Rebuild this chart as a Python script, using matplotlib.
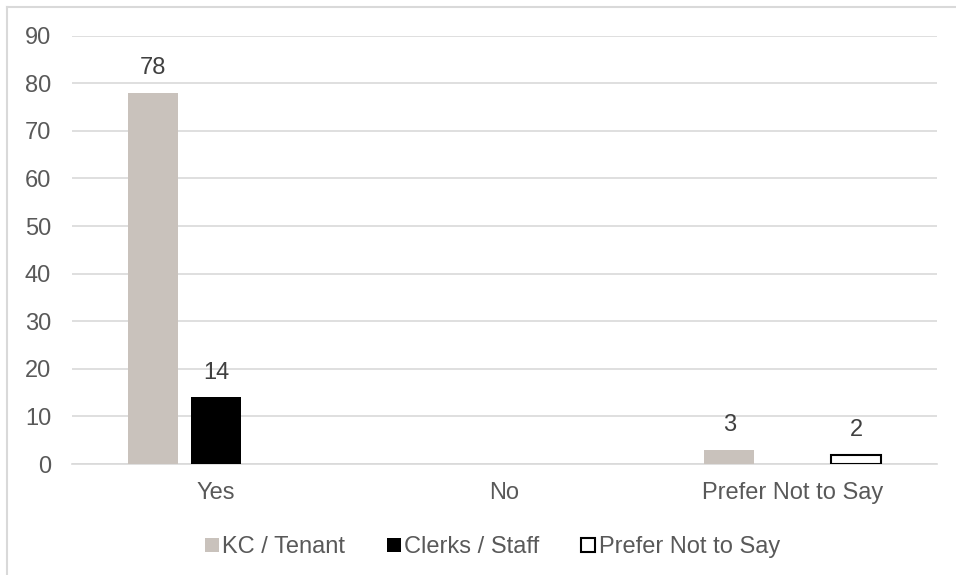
import numpy as np
import matplotlib.pyplot as plt
from matplotlib.lines import Line2D

plt.rcParams['font.family'] = ['Liberation Sans', 'DejaVu Sans']

categories = ['Yes', 'No', 'Prefer Not to Say']
kc_tenant = [78, np.nan, 3]
clerks_staff = [14, np.nan, np.nan]
prefer_not = [np.nan, np.nan, 2]

series = [
    ('KC / Tenant', kc_tenant, '#C9C2BC', '#C9C2BC'),
    ('Clerks / Staff', clerks_staff, '#000000', '#000000'),
    ('Prefer Not to Say', prefer_not, '#FFFFFF', '#000000'),
]

fig = plt.figure(figsize=(9.56, 5.75), dpi=100)
ax = fig.add_axes([0.0753, 0.193, 0.9047, 0.745])

x = np.arange(len(categories))
width = 0.173
step = 0.22
fs = 17

for i, (name, vals, face, edge) in enumerate(series):
    pos = x + (i - 1) * step
    ax.bar(pos, vals, width, color=face, edgecolor=edge,
           linewidth=1.5 if face == '#FFFFFF' else 0, zorder=3)
    for p, v in zip(pos, vals):
        if not np.isnan(v):
            ax.text(p, v + 2.9, f'{v:g}', ha='center', va='bottom',
                    fontsize=fs, color='#404040')

ax.set_xlim(-0.5, 2.5)
ax.set_ylim(0, 90)
ax.set_yticks(range(0, 91, 10))
ax.set_xticks(x)
ax.set_xticklabels(categories)
ax.tick_params(axis='both', length=0, labelsize=fs, colors='#595959')
ax.tick_params(axis='x', pad=13)
ax.tick_params(axis='y', pad=15)
ax.yaxis.grid(True, color='#D9D9D9', linewidth=1.2, zorder=0)
for s in ['top', 'right', 'left']:
    ax.spines[s].set_visible(False)
ax.spines['bottom'].set_color('#D9D9D9')
ax.spines['bottom'].set_linewidth(1.2)

handles = [
    Line2D([], [], marker='s', linestyle='none', markersize=9.5,
           markerfacecolor=face, markeredgecolor=edge,
           markeredgewidth=1.5 if face == '#FFFFFF' else 0)
    for name, vals, face, edge in series
]
fig.legend(handles, [s[0] for s in series], loc='center',
           bbox_to_anchor=(0.513, 0.049), ncol=3, frameon=False,
           fontsize=fs, labelcolor='#595959', handletextpad=0.0,
           columnspacing=1.6, handlelength=0.9)

# outer chart frame (left and top edges visible)
fig.add_artist(Line2D([0.0073, 0.0073], [0, 0.988], transform=fig.transFigure,
                      color='#D9D9D9', linewidth=1.5))
fig.add_artist(Line2D([0.0073, 1], [0.988, 0.988], transform=fig.transFigure,
                      color='#D9D9D9', linewidth=1.5))

fig.savefig('out.png', dpi=100)
